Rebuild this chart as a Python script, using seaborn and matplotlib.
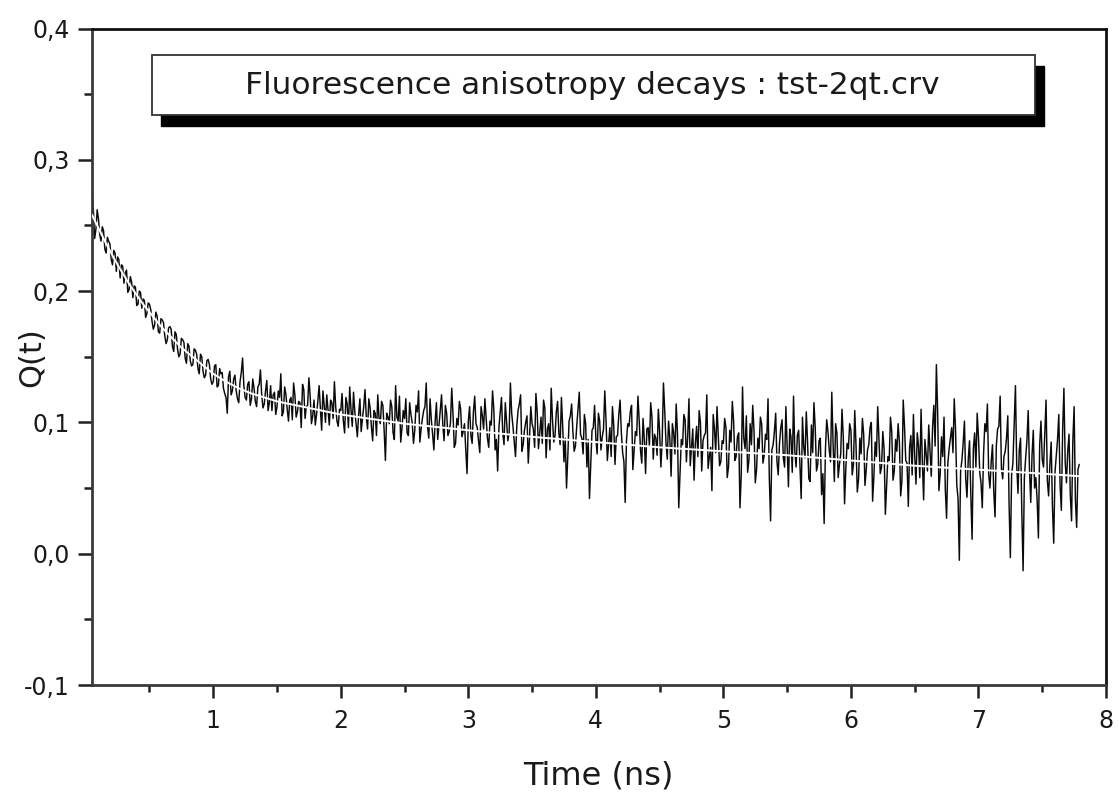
import numpy as np
import pandas as pd
import matplotlib
matplotlib.use("Agg")
import matplotlib.pyplot as plt
import seaborn as sns
from matplotlib.patches import Rectangle
from matplotlib.ticker import FixedLocator, MultipleLocator

# ---------------- data ----------------
t_start = 0.05      # ns, first channel
t_step = 0.01       # ns, channel width

# channels 0, 2, 4, ... (t = 0.05, 0.07, ...)
q_even = [
    0.277, 0.240, 0.262, 0.243, 0.249, 0.232, 0.241, 0.236, 0.220, 0.229,
    0.226, 0.210, 0.219, 0.214, 0.199, 0.211, 0.195, 0.203, 0.190, 0.199,
    0.194, 0.180, 0.191, 0.186, 0.171, 0.184, 0.169, 0.179,
    0.176, 0.160, 0.172, 0.171, 0.154, 0.167, 0.150, 0.164, 0.161, 0.145,
    0.158, 0.143, 0.156, 0.152, 0.137, 0.150, 0.134, 0.147, 0.144, 0.129,
    0.143, 0.127, 0.141, 0.138, 0.122, 0.107, 0.139, 0.124, 0.136, 0.118,
    0.131, 0.149, 0.119, 0.129, 0.113, 0.133, 0.116, 0.127, 0.140, 0.111,
    0.124, 0.109, 0.128, 0.121, 0.106,
    0.124, 0.137, 0.108, 0.121, 0.101, 0.119, 0.130, 0.104, 0.116, 0.096,
    0.125, 0.112, 0.134, 0.099, 0.117, 0.106, 0.128, 0.094, 0.113, 0.121,
    0.098, 0.115, 0.131, 0.101, 0.110,
    0.122, 0.092, 0.114, 0.127, 0.097, 0.108, 0.089, 0.118, 0.103, 0.125,
    0.095, 0.111, 0.086, 0.107, 0.121, 0.099, 0.113, 0.071, 0.104, 0.117,
    0.092, 0.128, 0.101, 0.085, 0.109,
    0.118, 0.090, 0.106, 0.084, 0.113, 0.124, 0.095, 0.109, 0.130, 0.088,
    0.102, 0.079, 0.115, 0.098, 0.121, 0.086, 0.107, 0.093, 0.126, 0.081,
    0.103, 0.116, 0.089, 0.099, 0.061,
    0.112, 0.084, 0.120, 0.096, 0.077, 0.105, 0.118, 0.088, 0.101, 0.124,
    0.079, 0.063, 0.108, 0.092, 0.115, 0.086, 0.130, 0.097, 0.074, 0.109,
    0.121, 0.083, 0.100, 0.069, 0.112,
    0.095, 0.122, 0.080, 0.104, 0.117, 0.073, 0.099, 0.126, 0.085, 0.108,
    0.092, 0.119, 0.070, 0.050, 0.101, 0.114, 0.078, 0.097, 0.123, 0.088,
    0.106, 0.066, 0.042, 0.094, 0.113,
    0.076, 0.101, 0.089, 0.124, 0.071, 0.096, 0.112, 0.068, 0.090, 0.117,
    0.077, 0.039, 0.099, 0.108, 0.064, 0.093, 0.120, 0.079, 0.103, 0.061,
    0.096, 0.115, 0.072, 0.088, 0.110,
    0.066, 0.130, 0.084, 0.101, 0.059, 0.092, 0.114, 0.035, 0.087, 0.106,
    0.070, 0.118, 0.081, 0.056, 0.097, 0.109, 0.063, 0.090, 0.121, 0.074,
    0.048, 0.095, 0.112, 0.067, 0.086,
    0.103, 0.058, 0.094, 0.116, 0.071, 0.089, 0.035, 0.127, 0.080, 0.062,
    0.099, 0.113, 0.054, 0.088, 0.104, 0.069, 0.091, 0.118, 0.025, 0.083,
    0.107, 0.060, 0.096, 0.073, 0.112,
    0.051, 0.089, 0.120, 0.066, 0.094, 0.042, 0.081, 0.108, 0.057, 0.098,
    0.115, 0.063, 0.086, 0.045, 0.023, 0.102, 0.079, 0.123, 0.055, 0.092,
    0.068, 0.110, 0.038, 0.084, 0.099,
    0.060, 0.109, 0.047, 0.088, 0.103, 0.052, 0.079, 0.096, 0.040, 0.085,
    0.112, 0.061, 0.093, 0.030, 0.074, 0.104, 0.056, 0.087, 0.099, 0.044,
    0.117, 0.071, 0.036, 0.090, 0.106,
    0.053, 0.082, 0.110, 0.041, 0.076, 0.098, 0.059, 0.113, 0.144, 0.048,
    0.089, 0.104, 0.027, 0.080, 0.096, 0.118, 0.052, -0.005, 0.071, 0.101,
    0.043, 0.086, 0.011, 0.092, 0.107,
    0.062, 0.035, 0.099, 0.114, 0.050, 0.083, 0.028, 0.095, 0.120, 0.057,
    0.078, 0.105, -0.003, 0.069, 0.128, 0.046, 0.088, -0.013, 0.073, 0.109,
    0.039, 0.094, 0.058, 0.012, 0.101,
    0.066, 0.117, 0.044, 0.085, 0.008, 0.075, 0.106, 0.033, 0.126, 0.054,
    0.091, 0.025, 0.112, 0.020, 0.068,
]

# channels 1, 3, 5, ... (t = 0.06, 0.08, ...)
q_odd = [
    0.262, 0.247, 0.255, 0.238, 0.246, 0.229, 0.238, 0.224, 0.231, 0.215,
    0.224, 0.220, 0.206, 0.216, 0.201, 0.207, 0.204, 0.189, 0.200, 0.187,
    0.193, 0.183, 0.190, 0.177, 0.174, 0.181, 0.168,
    0.178, 0.166, 0.163, 0.173, 0.158, 0.169, 0.156, 0.152, 0.163, 0.149,
    0.160, 0.147, 0.144, 0.155, 0.141, 0.152, 0.139, 0.136, 0.148, 0.133,
    0.131, 0.144, 0.128, 0.137, 0.126, 0.119, 0.135, 0.121, 0.133, 0.124,
    0.115, 0.138, 0.128, 0.117, 0.131, 0.118, 0.126, 0.112, 0.129, 0.121,
    0.114, 0.132, 0.115, 0.109, 0.123,
    0.112, 0.119, 0.105, 0.127, 0.110, 0.117, 0.102, 0.121, 0.108, 0.115,
    0.129, 0.103, 0.113, 0.120, 0.105, 0.098, 0.116, 0.111, 0.124, 0.100,
    0.109, 0.117, 0.103, 0.112, 0.097,
    0.109, 0.101, 0.119, 0.096, 0.110, 0.123, 0.099, 0.106, 0.093, 0.112,
    0.104, 0.118, 0.097, 0.109, 0.090, 0.103, 0.116, 0.094, 0.107, 0.099,
    0.112, 0.087, 0.104, 0.120, 0.096,
    0.103, 0.092, 0.115, 0.100, 0.094, 0.108, 0.085, 0.103, 0.112, 0.097,
    0.118, 0.091, 0.101, 0.087, 0.109, 0.098, 0.113, 0.090, 0.100, 0.106,
    0.084, 0.098, 0.110, 0.093, 0.079,
    0.101, 0.090, 0.108, 0.099, 0.086, 0.112, 0.095, 0.103, 0.081, 0.098,
    0.110, 0.087, 0.096, 0.119, 0.083, 0.100, 0.092, 0.107, 0.085, 0.097,
    0.114, 0.078, 0.094, 0.105, 0.088,
    0.099, 0.081, 0.108, 0.092, 0.084, 0.111, 0.095, 0.079, 0.102, 0.090,
    0.116, 0.083, 0.097, 0.088, 0.074, 0.105, 0.093, 0.082, 0.110, 0.091,
    0.076, 0.099, 0.087, 0.069, 0.096,
    0.088, 0.107, 0.079, 0.095, 0.101, 0.083, 0.074, 0.098, 0.089, 0.106,
    0.092, 0.070, 0.086, 0.097, 0.113, 0.078, 0.090, 0.101, 0.069, 0.087,
    0.095, 0.082, 0.104, 0.091, 0.075,
    0.093, 0.086, 0.109, 0.072, 0.088, 0.099, 0.076, 0.091, 0.062, 0.083,
    0.102, 0.089, 0.067, 0.095, 0.084, 0.074, 0.100, 0.086, 0.092, 0.065,
    0.081, 0.106, 0.077, 0.090, 0.070,
    0.084, 0.096, 0.066, 0.085, 0.101, 0.074, 0.092, 0.060, 0.088, 0.105,
    0.071, 0.083, 0.094, 0.064, 0.080, 0.099, 0.075, 0.087, 0.058, 0.079,
    0.093, 0.070, 0.084, 0.102, 0.066,
    0.081, 0.095, 0.062, 0.078, 0.090, 0.069, 0.104, 0.073, 0.085, 0.055,
    0.077, 0.096, 0.068, 0.088, 0.061, 0.079, 0.093, 0.070, 0.084, 0.099,
    0.058, 0.076, 0.089, 0.065, 0.080,
    0.094, 0.068, 0.082, 0.057, 0.076, 0.091, 0.064, 0.083, 0.100, 0.059,
    0.074, 0.087, 0.066, 0.080, 0.052, 0.071, 0.093, 0.063, 0.078, 0.085,
    0.056, 0.097, 0.069, 0.081, 0.060,
    0.075, 0.092, 0.058, 0.070, 0.087, 0.063, 0.079, 0.096, 0.082, 0.108,
    0.061, 0.074, 0.049, 0.069, 0.088, 0.077, 0.095, 0.042, 0.063, 0.084,
    0.057, 0.072, 0.045, 0.080, 0.066,
    0.089, 0.054, 0.076, 0.093, 0.061, 0.070, 0.047, 0.082, 0.097, 0.065,
    0.074, 0.088, 0.038, 0.060, 0.099, 0.067, 0.079, 0.031, 0.058, 0.086,
    0.064, 0.075, 0.050, 0.041, 0.083,
    0.072, 0.091, 0.056, 0.068, 0.036, 0.062, 0.087, 0.052, 0.094, 0.070,
    0.078, 0.045, 0.086, 0.041, 0.064,
]

fit_t = [0.05, 0.10, 0.15, 0.20, 0.25, 0.30, 0.35, 0.40, 0.45, 0.50, 0.55,
         0.60, 0.65, 0.70, 0.75, 0.80, 0.85, 0.90, 0.95, 1.00, 1.10, 1.20,
         1.30, 1.40, 1.50, 1.60, 1.70, 1.80, 1.90, 2.00, 2.50, 3.00, 3.50,
         4.00, 4.50, 5.00, 5.50, 6.00, 6.50, 7.00, 7.50, 7.79]
fit_q = [0.258, 0.248, 0.238, 0.229, 0.220, 0.212, 0.204, 0.197, 0.190,
         0.184, 0.178, 0.172, 0.167, 0.162, 0.157, 0.153, 0.149, 0.145,
         0.141, 0.137, 0.131, 0.126, 0.122, 0.119, 0.116, 0.114, 0.112,
         0.110, 0.108, 0.106, 0.099, 0.094, 0.089, 0.085, 0.081, 0.078,
         0.075, 0.071, 0.067, 0.064, 0.061, 0.059]

x_ticks = [1, 2, 3, 4, 5, 6, 7, 8]
x_tick_labels = ["1", "2", "3", "4", "5", "6", "7", "8"]
y_ticks = [-0.1, 0.0, 0.1, 0.2, 0.3, 0.4]
y_tick_labels = ["-0,1", "0,0", "0,1", "0,2", "0,3", "0,4"]

title_text = "Fluorescence anisotropy decays : tst-2qt.crv"
x_label = "Time (ns)"
y_label = "Q(t)"

# ---------------- figure ----------------
sns.set_style("white")
plt.rcParams["font.family"] = ["DejaVu Sans"]

W, H = 1119, 801
PT = 72 / 100  # points per pixel at dpi 100
fig = plt.figure(figsize=(W / 100, H / 100), dpi=100)
ax_l, ax_r, ax_t, ax_b = 91.7, 1106.0, 28.5, 685.0
ax = fig.add_axes([ax_l / W, 1 - ax_b / H, (ax_r - ax_l) / W, (ax_b - ax_t) / H])

# interleave the two channel sets into one trace
q_all = np.empty(len(q_even) + len(q_odd))
q_all[0::2] = q_even
q_all[1::2] = q_odd
time = np.round(t_start + t_step * np.arange(len(q_all)), 3)
df_data = pd.DataFrame({"t": time, "q": q_all})
df_fit = pd.DataFrame({"t": fit_t, "q": fit_q})

sns.lineplot(data=df_data, x="t", y="q", ax=ax, color="#0a0a0a",
             linewidth=1.05, estimator=None, sort=False, zorder=2)
sns.lineplot(data=df_fit, x="t", y="q", ax=ax, color="white",
             linewidth=1.4, estimator=None, sort=False, zorder=3)

ax.set_xlim(0.047, 8.0)
ax.set_ylim(-0.1, 0.4)

ax.xaxis.set_major_locator(FixedLocator(x_ticks))
ax.set_xticklabels(x_tick_labels, fontsize=17, color="#1a1a1a")
ax.xaxis.set_minor_locator(MultipleLocator(0.5))
ax.yaxis.set_major_locator(FixedLocator(y_ticks))
ax.set_yticklabels(y_tick_labels, fontsize=17, color="#1a1a1a")
ax.yaxis.set_minor_locator(MultipleLocator(0.05))

ax.tick_params(axis="both", which="both", direction="out", width=1.8,
               color="#202020", top=False, right=False, left=True, bottom=True)
ax.tick_params(axis="x", which="major", length=13 * PT, pad=11 * PT)
ax.tick_params(axis="x", which="minor", length=7 * PT)
ax.tick_params(axis="y", which="major", length=14 * PT, pad=8 * PT)
ax.tick_params(axis="y", which="minor", length=8 * PT)

for side in ["left", "bottom"]:
    ax.spines[side].set_color("#3a3a3a")
    ax.spines[side].set_linewidth(2.0)
for side in ["top", "right"]:
    ax.spines[side].set_color("#111111")
    ax.spines[side].set_linewidth(2.0)

ax.set_xlabel(x_label, fontsize=23, color="#1a1a1a")
ax.set_ylabel(y_label, fontsize=22, color="#1a1a1a")
ax.xaxis.label.set_va("center")
ax.yaxis.label.set_va("center")
ax.xaxis.set_label_coords(0.499, (ax_b - 776) / (ax_b - ax_t))
ax.yaxis.set_label_coords((32 - ax_l) / (ax_r - ax_l), 0.5)

# title box with drop shadow (figure pixel coordinates converted to fractions)
bx0, bx1, by0, by1 = 152, 1035, 55, 115
dx, dy = 9, 11
fig.patches.append(Rectangle(((bx0 + dx) / W, 1 - (by1 + dy) / H),
                             (bx1 - bx0) / W, (by1 - by0) / H,
                             transform=fig.transFigure, facecolor="black",
                             edgecolor="black", zorder=5))
fig.patches.append(Rectangle((bx0 / W, 1 - by1 / H),
                             (bx1 - bx0) / W, (by1 - by0) / H,
                             transform=fig.transFigure, facecolor="white",
                             edgecolor="#333333", linewidth=1.3, zorder=6))
fig.text(592.5 / W, 1 - 85 / H, title_text, ha="center", va="center",
         fontsize=22.5, color="#1a1a1a", zorder=7)

for lbl in ax.get_xticklabels() + ax.get_yticklabels():
    lbl.set_fontsize(17)

fig.savefig("out.png", dpi=100, facecolor="white")
